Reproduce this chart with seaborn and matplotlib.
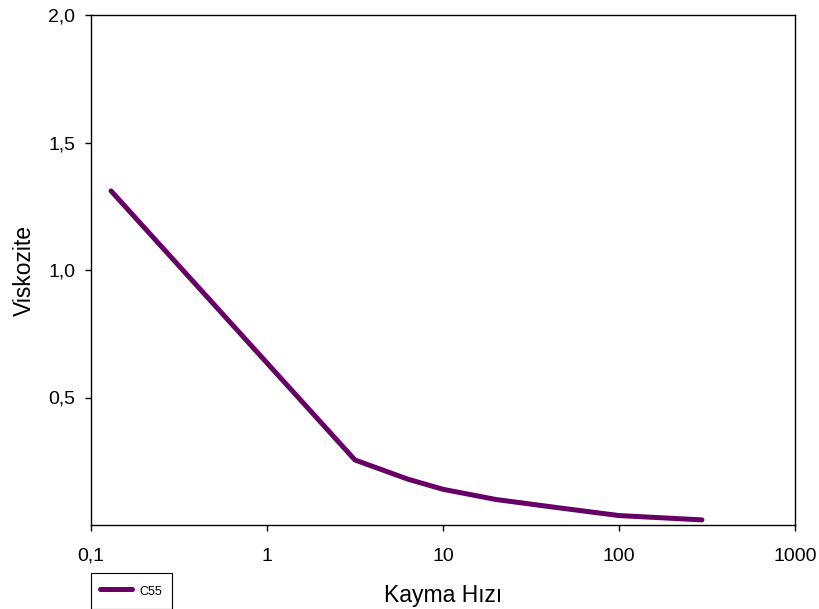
import matplotlib
matplotlib.use("Agg")
import matplotlib.pyplot as plt
import seaborn as sns
import pandas as pd
from matplotlib.ticker import FixedLocator, FixedFormatter, NullLocator

# Shear rate vs. viscosity for sample C55
shear_rate = [0.13, 3.16, 6.3, 10, 20, 46, 100, 296]
viscosity = [1.31, 0.255, 0.18, 0.14, 0.10, 0.067, 0.037, 0.02]
series_name = "C55"

x_ticks = [0.1, 1, 10, 100, 1000]
x_tick_labels = ["0,1", "1", "10", "100", "1000"]
y_ticks = [0.5, 1.0, 1.5, 2.0]
y_tick_labels = ["0,5", "1,0", "1,5", "2,0"]

sns.set_style("ticks")
plt.rcParams["font.family"] = ["Liberation Sans", "DejaVu Sans"]
plt.rcParams["text.color"] = "black"
plt.rcParams["axes.labelcolor"] = "black"

df = pd.DataFrame({"Kayma Hızı": shear_rate, "Viskozite": viscosity, "Seri": series_name})

fig = plt.figure(figsize=(8.2, 6.09), dpi=100)
ax = fig.add_axes([91 / 820, 1 - 525 / 609, (795 - 91) / 820, (525 - 15) / 609])

sns.lineplot(data=df, x="Kayma Hızı", y="Viskozite", hue="Seri",
             palette=["#660066"], linewidth=3.6, ax=ax, legend=True)

ax.set_xscale("log")
ax.set_xlim(0.1, 1000)
ax.set_ylim(0, 2.0)
ax.xaxis.set_major_locator(FixedLocator(x_ticks))
ax.xaxis.set_major_formatter(FixedFormatter(x_tick_labels))
ax.xaxis.set_minor_locator(NullLocator())
ax.yaxis.set_major_locator(FixedLocator(y_ticks))
ax.yaxis.set_major_formatter(FixedFormatter(y_tick_labels))

for side in ["left", "right", "top", "bottom"]:
    ax.spines[side].set_visible(True)
    ax.spines[side].set_color("black")
    ax.spines[side].set_linewidth(1.0)

ax.tick_params(axis="both", direction="out", length=4.5, width=1, colors="black",
               labelsize=14)
ax.tick_params(axis="x", pad=12)
ax.tick_params(axis="y", pad=7)

ax.set_xlabel("Kayma Hızı", fontsize=16.5, labelpad=14)
ax.set_ylabel("Viskozite", fontsize=16.5, labelpad=9)

handles, labels = ax.get_legend_handles_labels()
ax.legend(handles, labels, loc="upper left",
          bbox_to_anchor=(91 / 820, 1 - 573 / 609), bbox_transform=fig.transFigure,
          fontsize=9, frameon=True, fancybox=False, edgecolor="black",
          framealpha=1, handlelength=2.5, handleheight=1.7, handletextpad=0.65,
          borderpad=0.75, borderaxespad=0)
ax.get_legend().get_frame().set_linewidth(0.8)

fig.savefig("out.png", dpi=100)
